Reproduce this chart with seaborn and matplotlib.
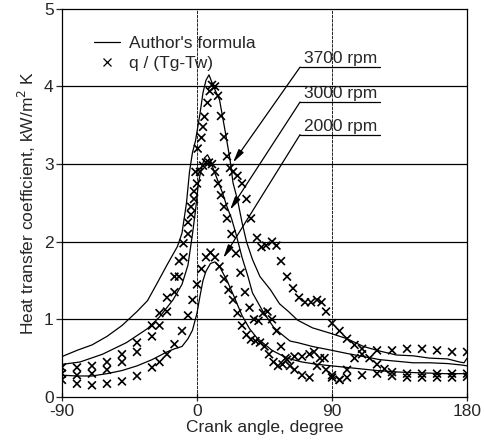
import pandas as pd
import numpy as np
import matplotlib
matplotlib.use("Agg")
import matplotlib.pyplot as plt
import seaborn as sns
from matplotlib.lines import Line2D

# measured data, q / (Tg-Tw)  (crank angle, kW/m2K)
ang_3700 = [-90, -80, -70, -60, -50, -40, -30, -25, -20, -15, -12, -9, -6, -4, -2, -1,
            0.5, 3, 4, 5, 7, 8.5, 10, 12, 14, 16, 18, 20, 22, 24, 27, 30, 33, 36, 40,
            43, 46, 50, 53, 56, 60, 64, 68, 72, 76, 80, 83, 86, 90, 95, 100, 105, 110,
            120, 130, 140, 150, 160, 170, 180]
h_3700 = [0.38, 0.38, 0.40, 0.45, 0.55, 0.70, 0.92, 1.08, 1.28, 1.55, 1.75, 1.98, 2.25, 2.45, 2.65, 2.90,
          3.20, 3.34, 3.48, 3.61, 3.79, 3.94, 4.02, 4.00, 3.88, 3.62, 3.35, 3.10, 2.95, 2.90, 2.85, 2.75, 2.55, 2.30, 2.05,
          1.93, 1.95, 2.00, 1.95, 1.75, 1.55, 1.40, 1.28, 1.22, 1.22, 1.25, 1.22, 1.10, 0.95, 0.85, 0.75, 0.67, 0.62,
          0.60, 0.60, 0.62, 0.62, 0.60, 0.58, 0.58]

ang_3000 = [-90, -80, -70, -60, -50, -40, -30, -25, -20, -15, -12, -9, -6, -4, -2, 0, 2, 4, 6, 8,
            10, 12, 14, 16, 18, 20, 23, 26, 29, 32, 35, 38, 41, 44, 47, 50, 53, 56, 59, 62,
            65, 70, 75, 80, 85, 90, 95, 100, 105, 110, 115, 120, 125, 130, 140, 150, 160, 170, 180]
h_3000 = [0.30, 0.28, 0.30, 0.35, 0.45, 0.58, 0.78, 0.92, 1.10, 1.35, 1.55, 1.80, 2.10, 2.35, 2.55, 2.75, 2.90, 2.98, 3.02, 3.02,
          3.00, 2.90, 2.75, 2.60, 2.45, 2.30, 2.10, 1.85, 1.60, 1.35, 1.15, 1.00, 0.98, 1.08, 1.10, 1.00, 0.85, 0.65, 0.50, 0.40,
          0.35, 0.28, 0.25, 0.40, 0.50, 0.28, 0.22, 0.35, 0.50, 0.55, 0.50, 0.42, 0.36, 0.32, 0.30, 0.30, 0.30, 0.30, 0.30]

ang_2000 = [-90, -80, -70, -60, -50, -40, -30, -25, -20, -15, -10, -6, -3, 0, 3, 6, 9, 12, 15, 18,
            21, 24, 27, 30, 33, 36, 39, 42, 45, 48, 51, 54, 57, 60, 65, 70, 75, 78, 82, 86,
            90, 95, 100, 110, 120, 130, 140, 150, 160, 170, 180]
h_2000 = [0.22, 0.17, 0.15, 0.17, 0.20, 0.27, 0.38, 0.45, 0.55, 0.68, 0.85, 1.05, 1.25, 1.45, 1.65, 1.80, 1.86, 1.80, 1.68, 1.52,
          1.38, 1.25, 1.08, 0.92, 0.80, 0.74, 0.72, 0.70, 0.65, 0.55, 0.45, 0.40, 0.42, 0.48, 0.52, 0.52, 0.55, 0.58, 0.50, 0.35,
          0.25, 0.22, 0.25, 0.28, 0.30, 0.27, 0.25, 0.25, 0.25, 0.25, 0.26]

# author's formula
fa_3700 = [-90, -80, -70, -60, -50, -40, -33, -27, -20, -13, -10, -7, -5, -3, -1, 2, 4, 6, 8, 11,
           15, 19, 22, 24, 27, 30, 33, 37, 42, 49, 55, 61, 67, 77, 89, 100, 111, 122, 133, 144,
           155, 167, 175, 178, 180]
fh_3700 = [0.52, 0.60, 0.67, 0.78, 0.92, 1.10, 1.24, 1.45, 1.70, 1.94, 2.11, 2.50, 2.90, 3.15, 3.30, 3.65, 3.92, 4.08, 4.15, 4.00,
           3.83, 3.40, 3.06, 2.76, 2.54, 2.25, 2.00, 1.77, 1.55, 1.38, 1.20, 1.10, 0.99, 0.89, 0.82, 0.75, 0.65, 0.59, 0.54, 0.53,
           0.50, 0.49, 0.45, 0.44, 0.50]

fa_3000 = [-90, -78, -63, -47, -33, -25, -16, -10, -6, -3, -1, 1, 3, 5, 7, 9, 11, 14, 17, 20,
           23, 26, 30, 34, 37, 44, 51, 55, 62, 67, 77, 90, 100, 111, 122, 133, 144, 155, 167, 177, 180]
fh_3000 = [0.42, 0.45, 0.55, 0.70, 0.88, 1.03, 1.25, 1.45, 1.70, 2.10, 2.40, 2.76, 2.95, 3.08, 3.12, 3.05, 2.93, 2.78, 2.63, 2.45,
           2.30, 2.10, 1.80, 1.55, 1.34, 1.10, 0.90, 0.83, 0.72, 0.70, 0.65, 0.60, 0.56, 0.52, 0.48, 0.46, 0.44, 0.44, 0.43, 0.41, 0.40]

fa_2000 = [-90, -80, -70, -60, -50, -40, -30, -20, -15, -10, -6, -3, 0, 2, 4, 6, 9, 12, 15, 20,
           25, 30, 35, 40, 50, 60, 70, 80, 90, 100, 110, 120, 135, 150, 165, 180]
fh_2000 = [0.28, 0.27, 0.27, 0.30, 0.34, 0.40, 0.48, 0.58, 0.62, 0.65, 0.75, 0.86, 1.08, 1.30, 1.50, 1.62, 1.72, 1.74, 1.68, 1.50,
           1.28, 1.05, 0.88, 0.76, 0.60, 0.50, 0.45, 0.42, 0.40, 0.38, 0.36, 0.34, 0.32, 0.31, 0.30, 0.30]

rpm_labels = ["3700 rpm", "3000 rpm", "2000 rpm"]

meas = pd.concat([
    pd.DataFrame({"angle": ang_3700, "h": h_3700, "rpm": "3700"}),
    pd.DataFrame({"angle": ang_3000, "h": h_3000, "rpm": "3000"}),
    pd.DataFrame({"angle": ang_2000, "h": h_2000, "rpm": "2000"}),
])
form = pd.concat([
    pd.DataFrame({"angle": fa_3700, "h": fh_3700, "rpm": "3700"}),
    pd.DataFrame({"angle": fa_3000, "h": fh_3000, "rpm": "3000"}),
    pd.DataFrame({"angle": fa_2000, "h": fh_2000, "rpm": "2000"}),
])

sns.set_style("ticks")
plt.rcParams["font.family"] = ["Liberation Sans", "DejaVu Sans"]
plt.rcParams["axes.unicode_minus"] = False

fig = plt.figure(figsize=(4.84, 4.44), dpi=100)
ax = fig.add_axes([0.128, 0.106, 0.837, 0.874])

black = {"3700": "black", "3000": "black", "2000": "black"}
sns.lineplot(data=form, x="angle", y="h", hue="rpm", palette=black, sort=False,
             estimator=None, lw=0.9, legend=False, ax=ax)
sns.scatterplot(data=meas, x="angle", y="h", hue="rpm", palette=black, marker="x",
                s=32, linewidth=1.2, legend=False, ax=ax, zorder=3)

# grid
for yv in [1, 2, 3, 4]:
    ax.axhline(yv, color="black", lw=0.9, zorder=1)
for xv in [0, 90]:
    ax.axvline(xv, color="black", lw=0.6, ls=(0, (4, 1)), zorder=1)

# rpm labels with arrows
tips = [(24, 3.02), (22, 2.41), (17.5, 1.79)]
ylev = [4.25, 3.80, 3.38]
for lab, tip, yl in zip(rpm_labels, tips, ylev):
    ax.plot([68.7, 122], [yl, yl], color="black", lw=0.9)
    ax.annotate("", xy=tip, xytext=(68.7, yl),
                arrowprops=dict(arrowstyle="-|>,head_length=0.8,head_width=0.18",
                                color="black", lw=0.9, shrinkA=0, shrinkB=0))
    ax.text(96, yl + 0.01, lab, ha="center", va="bottom", fontsize=12.5)

handles = [Line2D([], [], color="black", lw=0.9),
           Line2D([], [], color="black", marker="x", ls="none", markersize=6, mew=0.9)]
ax.legend(handles, ["Author's formula", "q / (Tg-Tw)"], loc="upper left",
          bbox_to_anchor=(0.04, 0.97), frameon=False, fontsize=12.5,
          handlelength=1.5, handletextpad=0.5, labelspacing=0.25)

ax.set_xlim(-90, 180)
ax.set_ylim(0, 5)
ax.set_xticks([-90, 0, 90, 180])
ax.set_yticks([0, 1, 2, 3, 4, 5])
ax.tick_params(axis="x", direction="inout", length=6, labelsize=12.5, pad=2, width=0.9)
ax.tick_params(axis="y", direction="out", length=4, labelsize=12.5, pad=2, width=0.9)
for sp in ax.spines.values():
    sp.set_color("black")
    sp.set_linewidth(0.9)
ax.set_xlabel("Crank angle, degree", fontsize=12.5, labelpad=1)
ax.set_ylabel("Heat transfer coefficient, kW/m$^2$ K", fontsize=12.5, labelpad=4)

fig.savefig("out.png", dpi=100)
